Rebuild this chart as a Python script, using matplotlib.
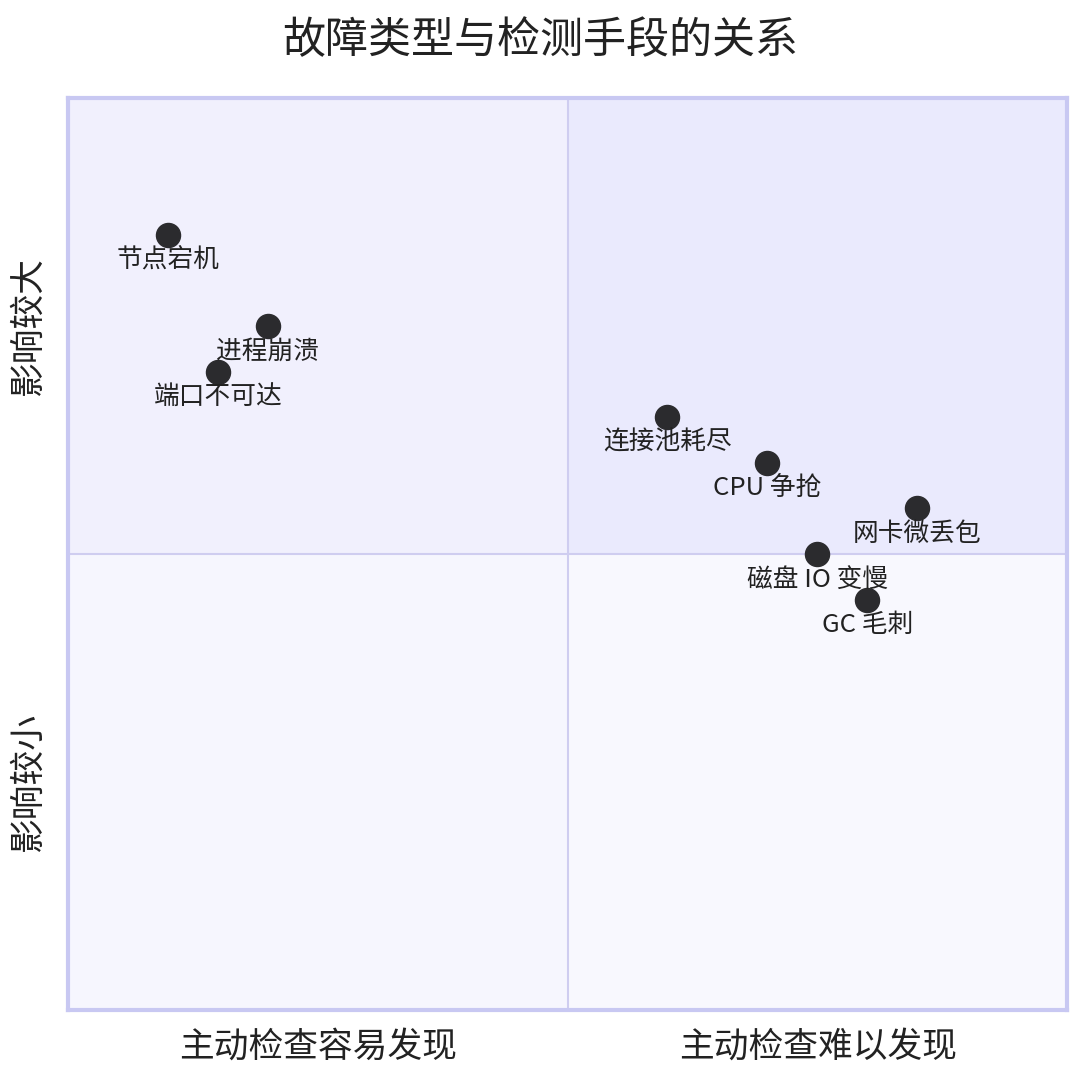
import matplotlib.pyplot as plt
from matplotlib.patches import Rectangle

plt.rcParams['font.family'] = ['Noto Sans CJK SC', 'DejaVu Sans']

names = ['节点宕机', '进程崩溃', '端口不可达', '连接池耗尽', 'CPU 争抢', '网卡微丢包', '磁盘 IO 变慢', 'GC 毛刺']
xs = [0.10, 0.20, 0.15, 0.60, 0.70, 0.85, 0.75, 0.80]
ys = [0.85, 0.75, 0.70, 0.65, 0.60, 0.55, 0.50, 0.45]

fig = plt.figure(figsize=(10.8, 10.8), dpi=100)
ax = fig.add_axes([68/1080, 70/1080, 999/1080, 912/1080])
ax.set_xlim(0, 1)
ax.set_ylim(0, 1)

ax.add_patch(Rectangle((0, 0.5), 0.5, 0.5, color='#f1f0fd', zorder=0))
ax.add_patch(Rectangle((0.5, 0.5), 0.5, 0.5, color='#eaeafd', zorder=0))
ax.add_patch(Rectangle((0, 0), 0.5, 0.5, color='#f6f6fe', zorder=0))
ax.add_patch(Rectangle((0.5, 0), 0.5, 0.5, color='#f8f8fe', zorder=0))
ax.axvline(0.5, color='#cfcdf0', lw=1.5)
ax.axhline(0.5, color='#cfcdf0', lw=1.5)
for s in ax.spines.values():
    s.set_color('#c8c8f2')
    s.set_linewidth(3)
ax.set_xticks([])
ax.set_yticks([])

ax.scatter(xs, ys, s=300, color='#2b2b2e', zorder=3)
for n, x, y in zip(names, xs, ys):
    ax.annotate(n, (x, y), xytext=(0, -9), textcoords='offset points',
                ha='center', va='top', fontsize=18.5, color='#222222')

fig.text(0.5, 0.962, '故障类型与检测手段的关系', ha='center', va='center', fontsize=31, color='#222222')
fig.text(318/1080, 1 - 1047/1080, '主动检查容易发现', ha='center', va='center', fontsize=25, color='#222222')
fig.text(818/1080, 1 - 1047/1080, '主动检查难以发现', ha='center', va='center', fontsize=25, color='#222222')
fig.text(28/1080, 1 - 326/1080, '影响较大', ha='center', va='center', fontsize=25, rotation=90, color='#222222')
fig.text(28/1080, 1 - 782/1080, '影响较小', ha='center', va='center', fontsize=25, rotation=90, color='#222222')

fig.savefig('out.png')
